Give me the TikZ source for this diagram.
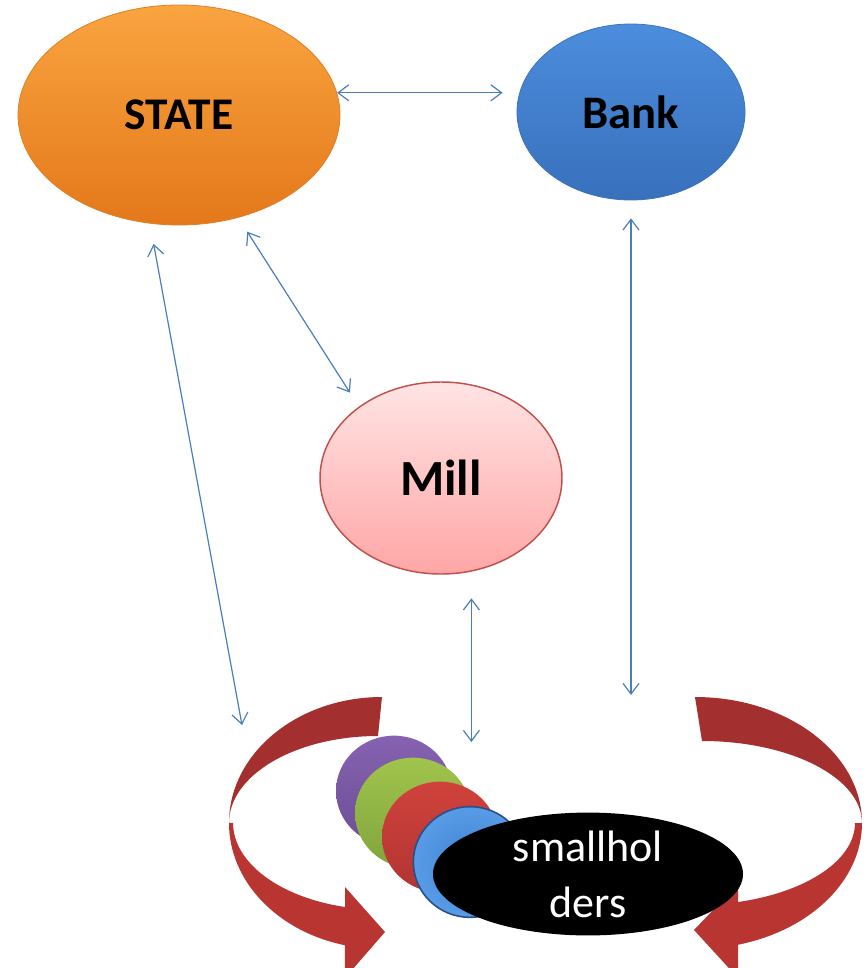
\documentclass[tikz,border=0pt]{standalone}
\usepackage{fontspec}
\setmainfont{Carlito}
\usetikzlibrary{shapes.geometric,arrows.meta,calc}
\definecolor{linkblue}{HTML}{4A7EBB}
\definecolor{ribbondark}{HTML}{A3302E}
\definecolor{ribbonlight}{HTML}{B83532}
\tikzset{
  oval/.style={ellipse, inner sep=0pt},
  conn/.style={draw=linkblue, line width=0.9pt,
    {Straight Barb[length=8pt,width=12pt]}-{Straight Barb[length=8pt,width=12pt]}},
  disc/.style={ellipse, inner sep=0pt, minimum width=87pt, minimum height=83pt},
}
\begin{document}
\begin{tikzpicture}[x=0.75pt,y=-0.75pt]
\useasboundingbox (0,0) rectangle (865,968);
\clip (0,0) rectangle (865,968);

% main actors
\node[oval, minimum width=241.5pt, minimum height=165pt,
      top color={rgb,255:red,249;green,164;blue,64}, bottom color={rgb,255:red,228;green,120;blue,26},
      draw={rgb,255:red,222;green,128;blue,40}, line width=0.6pt,
      font=\fontsize{34}{40}\selectfont\bfseries] (state) at (179,115) {STATE};
\node[oval, minimum width=171pt, minimum height=132pt,
      top color={rgb,255:red,76;green,141;blue,221}, bottom color={rgb,255:red,56;green,112;blue,188},
      draw={rgb,255:red,60;green,115;blue,185}, line width=0.6pt,
      font=\fontsize{35}{40}\selectfont\bfseries] (bank) at (631,112) {Bank};
\node[oval, minimum width=181.5pt, minimum height=144pt,
      top color={rgb,255:red,255;green,228;blue,228}, bottom color={rgb,255:red,255;green,166;blue,166},
      draw={rgb,255:red,192;green,80;blue,77}, line width=1.1pt,
      font=\fontsize{38}{44}\selectfont\bfseries] (mill) at (441,478) {Mill};

% circular ribbon arrows around the smallholders
\fill[ribbondark] (382,697) arc[start angle=270, end angle=180, x radius=153, y radius=126]
  arc[start angle=180, end angle=270, x radius=149, y radius=87] -- cycle;
\fill[ribbonlight] (229,823) arc[start angle=180, end angle=104, x radius=153, y radius=126]
  -- (345,978) -- (385,932) -- (345,887) -- (345,907)
  arc[start angle=104.4, end angle=180, x radius=149, y radius=87] -- cycle;

\fill[ribbondark] (695,697) arc[start angle=270, end angle=360, x radius=167, y radius=126]
  arc[start angle=360, end angle=270, x radius=160, y radius=82] -- cycle;
\fill[ribbonlight] (862,823) arc[start angle=0, end angle=75, x radius=167, y radius=126]
  -- (738,978) -- (694,930) -- (738,884) -- (738,902)
  arc[start angle=74.4, end angle=0, x radius=160, y radius=82] -- cycle;

% stacked smallholder discs
\node[disc, top color={rgb,255:red,134;green,98;blue,176}, bottom color={rgb,255:red,108;green,78;blue,150}] (d1) at (394,791) {};
\node[disc, top color={rgb,255:red,160;green,196;blue,76}, bottom color={rgb,255:red,128;green,164;blue,60}] (d2) at (413,813) {};
\node[disc, top color={rgb,255:red,208;green,66;blue,60}, bottom color={rgb,255:red,178;green,52;blue,50}] (d3) at (440,837) {};
\node[disc, minimum width=85pt, minimum height=83pt, draw={rgb,255:red,40;green,80;blue,140}, line width=1.2pt,
      inner color={rgb,255:red,64;green,130;blue,210}, outer color={rgb,255:red,88;green,156;blue,230}] (d4) at (470,862) {};
\node[oval, fill=black, minimum width=232.5pt, minimum height=84pt, text=white, align=center,
      font=\fontsize{33}{42}\selectfont] (small) at (588,874) {smallhol\\ders};

% free ends of the links into the smallholder group
\coordinate (end-state) at (242,725);
\coordinate (end-bank) at (632,695);
\coordinate (end-mill) at (472,742);

% links
\draw[conn, shorten >=10.5pt] (state.8) -- (state.8 -| bank.west);
\draw[conn, shorten <=12.5pt, shorten >=12.5pt] (state.-60) -- (mill.139);
\draw[conn, shorten <=15.5pt] (state.-105) -- (end-state);
\draw[conn, shorten <=13.5pt] (bank.south) -- (bank.south |- end-bank);
\draw[conn, shorten <=20pt] (mill.-72) -- (mill.-72 |- end-mill);
\end{tikzpicture}
\end{document}
